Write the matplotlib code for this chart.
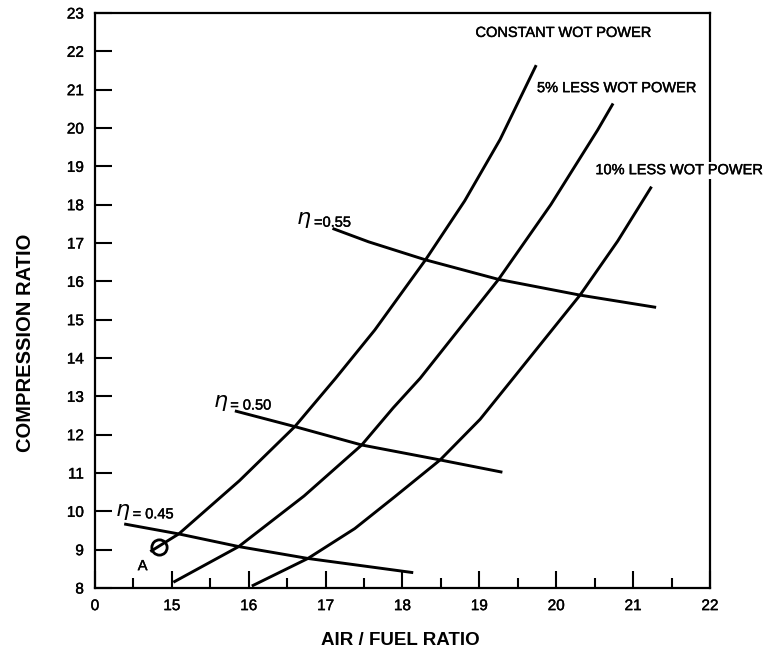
import matplotlib.pyplot as plt
import matplotlib.patheffects as pe
import numpy as np

plt.rcParams['font.family'] = ['Liberation Sans', 'DejaVu Sans']

# curves of constant WOT power (air/fuel ratio, compression ratio)
const_x = [14.72, 15.09, 15.88, 16.60, 17.13, 17.64, 18.30, 18.81, 19.27, 19.74]
const_y = [8.95, 9.41, 10.80, 12.21, 13.47, 14.73, 16.56, 18.10, 19.70, 21.64]
less5_x = [15.02, 15.87, 16.72, 17.47, 17.88, 18.23, 19.25, 19.93, 20.54, 20.74]
less5_y = [8.15, 9.08, 10.40, 11.73, 12.70, 13.47, 16.05, 18.00, 19.95, 20.64]
less10_x = [16.04, 16.77, 17.38, 17.90, 18.49, 19.01, 19.44, 20.31, 20.80, 21.24]
less10_y = [8.05, 8.77, 9.55, 10.38, 11.34, 12.40, 13.47, 15.64, 17.05, 18.47]

# lines of constant efficiency
eta45_x = [14.38, 15.09, 15.87, 16.77, 18.14]
eta45_y = [9.67, 9.41, 9.08, 8.77, 8.40]
eta50_x = [15.82, 16.60, 17.47, 18.49, 19.30]
eta50_y = [12.62, 12.21, 11.73, 11.34, 11.02]
eta55_x = [17.09, 17.56, 18.30, 19.25, 20.31, 21.30]
eta55_y = [17.38, 17.03, 16.56, 16.05, 15.64, 15.32]

point_a = (14.83, 9.06)

x_ticks = [14, 15, 16, 17, 18, 19, 20, 21, 22]
x_labels = ['0', '15', '16', '17', '18', '19', '20', '21', '22']
y_ticks = list(range(8, 24))

heavy = [pe.withStroke(linewidth=0.3, foreground='black')]

fig = plt.figure(figsize=(7.69, 6.56), dpi=100)
ax = fig.add_axes([0.1235, 0.1037, 0.7997, 0.8765])

lw = 2.1
for xs, ys in [(const_x, const_y), (less5_x, less5_y), (less10_x, less10_y),
               (eta45_x, eta45_y), (eta50_x, eta50_y), (eta55_x, eta55_y)]:
    ax.plot(xs, ys, color='black', lw=lw, solid_capstyle='butt', solid_joinstyle='round')

ax.plot(*point_a, marker='o', ms=11, mfc='none', mec='black', mew=2)
ax.text(14.62, 8.57, 'A', fontsize=10.5, ha='center', va='center', path_effects=heavy)

# efficiency labels
for ex, ey, txt in [(16.72, 17.6, '=0.55'), (15.63, 12.83, '= 0.50'), (14.36, 9.99, '= 0.45')]:
    ax.text(ex, ey, r'$\eta$', fontsize=16, ha='center', va='center')
    ax.text(ex + 0.13, ey - 0.07, txt, fontsize=10.5, ha='left', va='center',
            path_effects=heavy)

ax.text(18.95, 22.48, 'CONSTANT WOT POWER', fontsize=10.5, ha='left', va='center',
        path_effects=heavy)
ax.text(19.75, 21.04, '5% LESS WOT POWER', fontsize=10.5, ha='left', va='center',
        path_effects=heavy)
ax.text(20.51, 18.9, '10% LESS WOT POWER', fontsize=10.5, ha='left', va='center',
        clip_on=False, zorder=5, path_effects=heavy,
        bbox=dict(facecolor='white', edgecolor='none', pad=1))

ax.set_xlim(14, 22)
ax.set_ylim(8, 23)
ax.set_xticks(x_ticks)
ax.set_xticklabels(x_labels)
ax.set_xticks(np.arange(14.5, 22, 1.0), minor=True)
ax.set_yticks(y_ticks)
ax.tick_params(axis='both', which='major', direction='in', length=12, width=1.5,
               labelsize=11, pad=8)
ax.tick_params(axis='x', which='minor', direction='in', length=7, width=1.5)
for lab in ax.get_xticklabels() + ax.get_yticklabels():
    lab.set_path_effects(heavy)
for s in ax.spines.values():
    s.set_linewidth(1.6)

fig.text(0.52, 0.023, 'AIR / FUEL RATIO', fontsize=13.5, fontweight='bold',
         ha='center', va='center')
fig.text(0.033, 0.477, 'COMPRESSION RATIO', fontsize=14.5, fontweight='bold',
         rotation=90, ha='center', va='center')

fig.savefig('out.png', dpi=100)
